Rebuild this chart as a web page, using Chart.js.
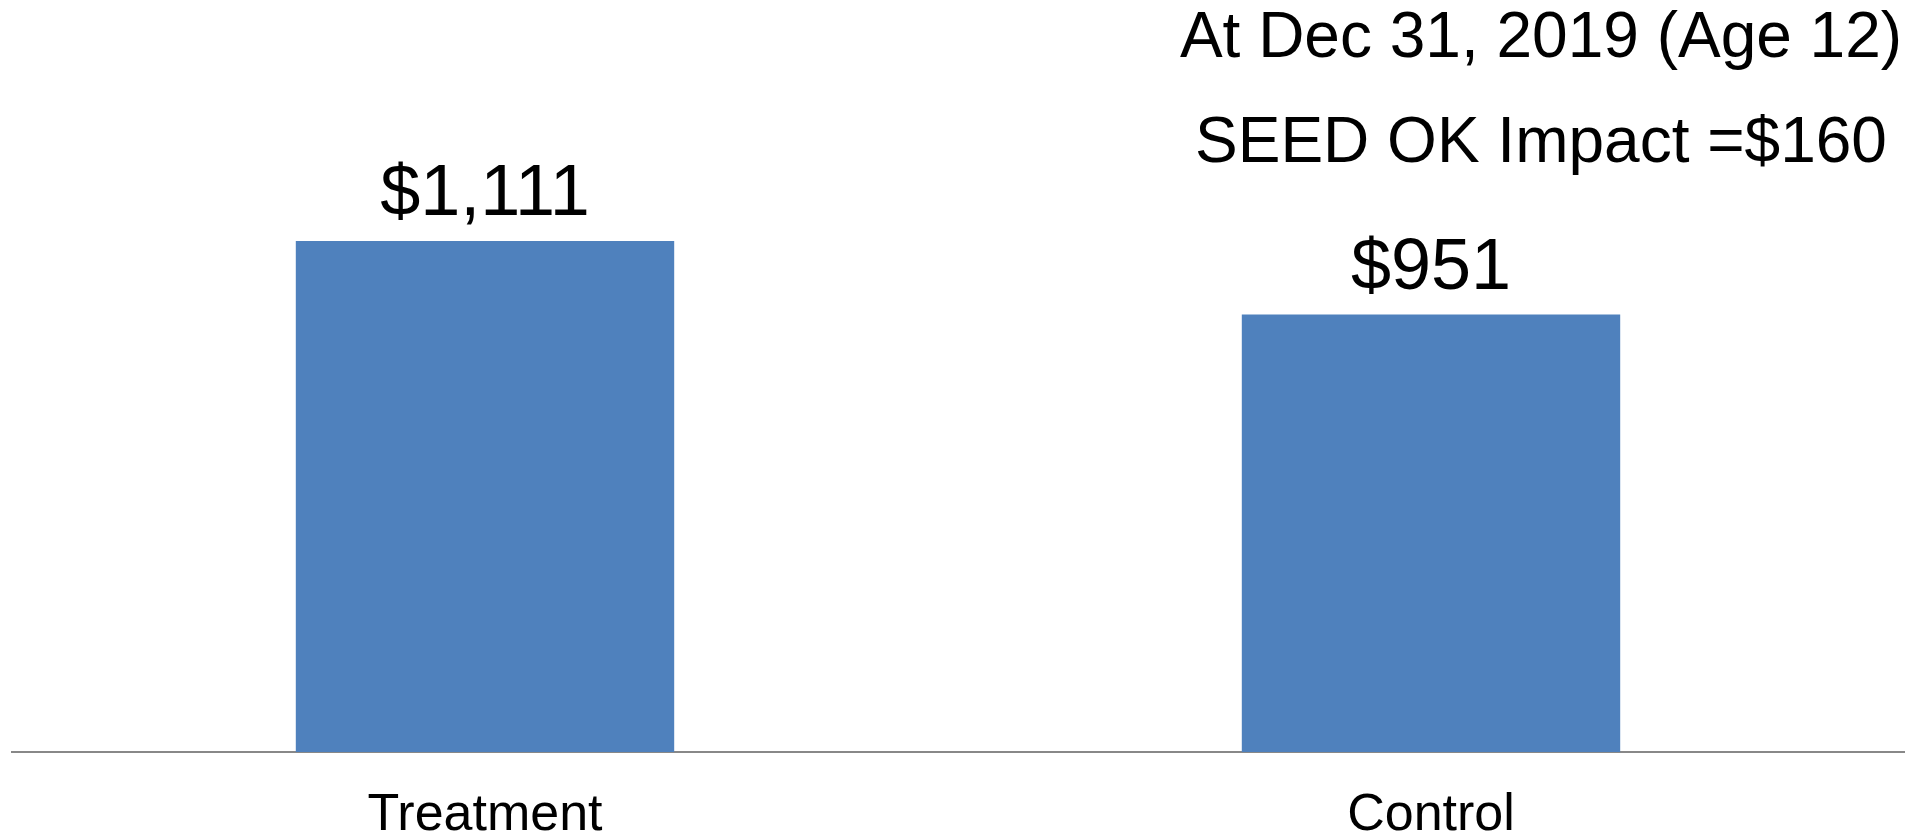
<!DOCTYPE html>
<html lang="en">
<head>
  <meta charset="UTF-8">
  <title>SEED OK Impact</title>
  <script src="https://cdn.jsdelivr.net/npm/chart.js"></script>
  <style>
    html, body {
      margin: 0;
      padding: 0;
      background: #fff;
    }
    .wrap {
      width: 1911px;
      height: 838px;
      position: relative;
    }
  </style>
</head>
<body>
  <div class="wrap">
    <canvas id="impactChart"></canvas>
  </div>

  <script>
    const groups = ['Treatment', 'Control'];
    const balances = [1111, 951];
    const noteLines = ['At Dec 31, 2019 (Age 12)', 'SEED OK Impact =$160'];

    const FONT = '"Liberation Sans", Arial, sans-serif';

    const money = v => '$' + v.toLocaleString('en-US');

    // value above each bar
    const valueLabels = {
      id: 'valueLabels',
      afterDatasetsDraw(chart) {
        const ctx = chart.ctx;
        const meta = chart.getDatasetMeta(0);
        ctx.save();
        ctx.font = '72px ' + FONT;
        ctx.fillStyle = '#000';
        ctx.textAlign = 'center';
        ctx.textBaseline = 'alphabetic';
        meta.data.forEach((bar, i) => {
          ctx.fillText(money(balances[i]), bar.x, bar.y - 26);
        });
        ctx.restore();
      }
    };

    // two-line note in the top right corner
    const cornerNote = {
      id: 'cornerNote',
      afterDraw(chart) {
        const ctx = chart.ctx;
        ctx.save();
        ctx.font = '64px ' + FONT;
        ctx.fillStyle = '#000';
        ctx.textAlign = 'center';
        ctx.textBaseline = 'alphabetic';
        ctx.fillText(noteLines[0], 1541, 57);
        ctx.fillText(noteLines[1], 1541, 162);
        ctx.restore();
      }
    };

    new Chart(document.getElementById('impactChart'), {
      type: 'bar',
      data: {
        labels: groups,
        datasets: [{
          data: balances,
          backgroundColor: '#4F81BD',
          borderWidth: 0,
          categoryPercentage: 1,
          barPercentage: 0.4
        }]
      },
      options: {
        responsive: true,
        maintainAspectRatio: false,
        animation: false,
        layout: { padding: { left: 12, right: 7, top: 16, bottom: 0 } },
        plugins: {
          legend: { display: false },
          tooltip: { enabled: false }
        },
        scales: {
          x: {
            grid: { display: false },
            border: { display: true, color: '#888', width: 2 },
            ticks: {
              color: '#000',
              padding: 30,
              font: { family: FONT, size: 52, lineHeight: 1 }
            },
            // keep the baseline where the labels sit below it
            afterFit(scale) {
              scale.height = 86;
            }
          },
          y: {
            display: false,
            min: 0,
            max: 1600
          }
        }
      },
      plugins: [valueLabels, cornerNote]
    });
  </script>
</body>
</html>
